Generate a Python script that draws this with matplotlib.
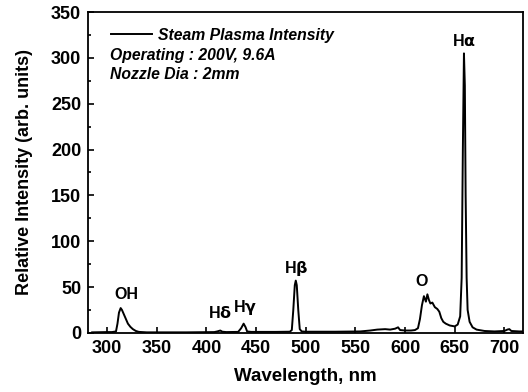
import matplotlib
matplotlib.use("Agg")
import matplotlib.pyplot as plt
from matplotlib.ticker import MultipleLocator

plt.rcParams['font.family'] = ['Liberation Sans', 'DejaVu Sans']
plt.rcParams['font.weight'] = 'bold'
plt.rcParams['mathtext.default'] = 'bf'

# spectrum (wavelength nm, intensity arb. units)
wavelength = [285, 300, 305, 309, 310.5, 312, 313.7, 315, 317, 319, 321, 323.5, 326, 329, 332, 340,
              380, 408, 411, 414, 416, 420, 432, 435, 437.5, 439.5, 441, 445, 470,
              484, 486, 487.5, 489, 490, 491, 492.5, 494, 496, 500, 530, 555, 565, 572, 580,
              585, 590, 593, 595, 600, 606, 610, 613, 615, 617, 619, 621, 622.5, 624, 625.5,
              627.5, 630, 632.5, 634.5, 636.5, 638.5, 641, 645, 650, 653, 655.5, 657, 658.2,
              659.3, 660.2, 661, 662, 663, 665, 668, 672, 680, 690, 700, 703, 705, 707, 715, 720]
intensity = [0.5, 0.8, 0.8, 1.5, 10, 22, 27, 25, 20, 15, 10, 6.5, 4, 2, 1, 0.5,
             0.5, 0.8, 1.5, 2.5, 1.2, 0.8, 1.0, 5, 10, 6, 1.5, 1.0, 1.0,
             1.2, 3, 25, 52, 57, 52, 25, 4, 1.5, 1.2, 1.2, 1.5, 2.5, 3.5, 4,
             3.5, 4.5, 6, 3, 2.5, 2.5, 3, 5, 15, 30, 40, 34, 42, 36, 32,
             33, 28, 26, 23, 16, 12, 10, 8, 7, 9, 18, 60, 200,
             305, 270, 150, 60, 25, 12, 6, 3.5, 2, 1.5, 2, 3.5, 4, 2, 1.5, 1.5]

# peak labels
peak_names = ['OH', r'H$\delta$', r'H$\gamma$', r'H$\beta$', 'O', r'H$\alpha$']
peak_x = [319, 414, 439, 490, 617, 659]
peak_y = [42, 22, 28, 70, 56, 319]

fig = plt.figure(figsize=(5.28, 3.92), dpi=100)
ax = fig.add_axes([0.167, 0.151, 0.824, 0.818])

ax.plot(wavelength, intensity, color='black', lw=1.4, label='Steam Plasma Intensity')

for name, px, py in zip(peak_names, peak_x, peak_y):
    ax.text(px, py, name, ha='center', va='center', fontsize=11.5, fontweight='bold')

ax.set_xlim(281, 719)
ax.set_ylim(0, 350)
ax.xaxis.set_major_locator(MultipleLocator(50))
ax.yaxis.set_major_locator(MultipleLocator(50))
ax.yaxis.set_minor_locator(MultipleLocator(25))
ax.tick_params(direction='in', which='both', top=False, right=False, labelsize=13, width=1.2, pad=5)
ax.tick_params(which='major', length=4)
ax.tick_params(which='minor', length=2.5)
for lab in ax.get_xticklabels() + ax.get_yticklabels():
    lab.set_fontweight('bold')
for sp in ax.spines.values():
    sp.set_linewidth(1.3)

ax.set_xlabel('Wavelength, nm', fontsize=13.5, fontweight='bold', labelpad=8)
ax.set_ylabel('Relative Intensity (arb. units)', fontsize=13, fontweight='bold', labelpad=13)

leg = ax.legend(loc='upper left', bbox_to_anchor=(0.02, 0.995), frameon=False,
                handlelength=2.6, handletextpad=0.4,
                prop={'style': 'italic', 'weight': 'bold', 'size': 11.3})
ax.text(0.05, 0.866, 'Operating : 200V, 9.6A', transform=ax.transAxes, fontsize=11.3,
        fontstyle='italic', fontweight='bold', va='center')
ax.text(0.05, 0.807, 'Nozzle Dia : 2mm', transform=ax.transAxes, fontsize=11.3,
        fontstyle='italic', fontweight='bold', va='center')

fig.savefig('out.png', dpi=100)
